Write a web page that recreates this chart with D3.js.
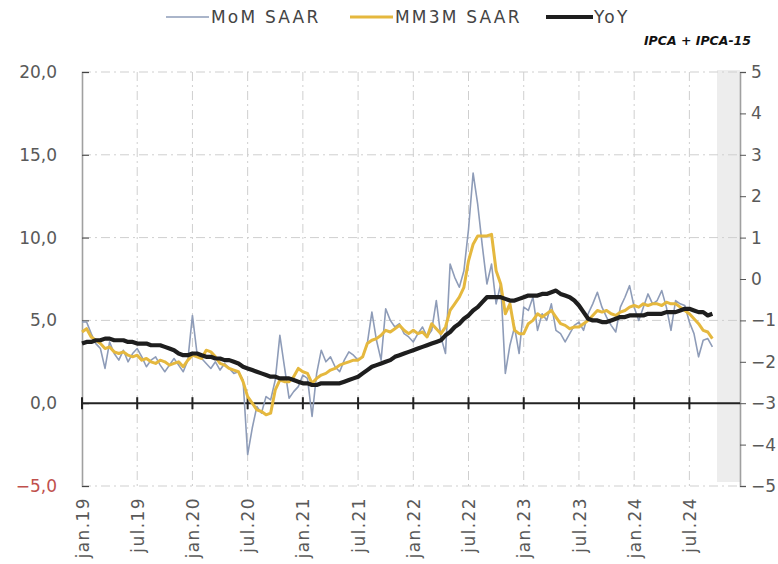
<!DOCTYPE html>
<html>
<head>
<meta charset="utf-8">
<script src="https://cdn.jsdelivr.net/npm/d3@7"></script>
<style>
  body { margin: 0; background: #fff; }
  svg text { font-family: "DejaVu Sans", sans-serif; }
</style>
</head>
<body>
<div class="chart"></div>
<script>
// semi-monthly readings (IPCA + IPCA-15), first point = jan.19, one point every half month
var momSaar = [4.9, 4.9, 4.2, 3.6, 3.3, 2.1, 3.7, 3.0, 2.6, 3.2, 2.5, 3.0, 3.3, 2.8, 2.2, 2.6, 2.8, 2.3, 1.9, 2.3,
  2.7, 2.3, 1.9, 2.6, 5.3, 3.0, 2.7, 2.4, 2.1, 2.5, 2.0, 2.4, 2.1, 1.8, 1.9, 1.4, -3.1, -1.5, -0.2, -0.6,
  0.4, 0.2, 1.4, 4.1, 2.2, 0.3, 0.7, 1.0, 1.7, 1.5, -0.8, 1.8, 3.2, 2.5, 2.8, 2.2, 1.9, 2.6, 3.1, 2.9,
  2.6, 2.8, 3.6, 5.5, 3.8, 2.6, 5.7, 5.0, 4.6, 4.8, 4.2, 4.0, 3.7, 4.2, 4.6, 4.0, 4.4, 6.2, 4.0, 3.0,
  8.4, 7.6, 7.0, 8.0, 10.5, 13.9, 12.0, 9.5, 7.2, 8.4, 6.0, 7.2, 1.8, 3.5, 4.6, 3.0, 5.8, 5.6, 6.4, 4.4,
  5.4, 5.0, 6.0, 4.4, 4.2, 3.7, 4.2, 4.7, 4.9, 4.4, 5.4, 6.0, 6.7, 5.8, 5.2, 4.7, 4.3, 5.8, 6.4, 7.1,
  5.8, 5.0, 5.8, 6.6, 6.0, 6.2, 6.8, 5.8, 4.4, 6.2, 6.0, 5.9, 4.9, 4.2, 2.8, 3.8, 3.9, 3.4]

var mm3mSaar = [4.3, 4.5, 4.0, 3.8, 3.6, 3.3, 3.4, 3.1, 3.0, 3.1, 2.9, 2.8, 2.9, 2.6, 2.7, 2.5, 2.4, 2.6, 2.5, 2.3,
  2.4, 2.5, 2.2, 2.6, 2.9, 2.8, 2.7, 3.2, 3.1, 2.8, 2.4, 2.3, 2.1, 2.0, 1.9, 1.3, 0.4, 0.0, -0.4, -0.5,
  -0.7, -0.6, 0.8, 1.4, 1.3, 1.3, 1.6, 2.1, 1.9, 1.8, 1.2, 1.5, 1.7, 1.8, 2.0, 2.1, 2.3, 2.4, 2.5, 2.6,
  2.6, 2.8, 3.6, 3.8, 3.9, 4.1, 4.4, 4.3, 4.5, 4.7, 4.4, 4.2, 4.4, 4.2, 4.3, 4.0, 4.8, 4.5, 4.2, 4.6,
  5.6, 6.0, 6.4, 7.0, 8.6, 9.6, 10.1, 10.1, 10.1, 10.2, 8.0, 7.2, 5.4, 6.0, 4.4, 4.2, 4.2, 4.8, 5.0, 5.4,
  5.2, 5.4, 5.6, 5.2, 4.8, 4.7, 4.5, 4.6, 4.6, 4.8, 5.0, 5.3, 5.6, 5.5, 5.6, 5.4, 5.3, 5.5, 5.6, 5.8,
  5.9, 5.8, 6.0, 5.9, 6.0, 6.0, 5.9, 6.1, 6.0, 6.0, 5.8, 5.6, 5.4, 5.1, 4.8, 4.4, 4.3, 3.9]

var yoy = [3.6, 3.7, 3.7, 3.8, 3.8, 3.9, 3.9, 3.8, 3.8, 3.8, 3.7, 3.7, 3.6, 3.6, 3.6, 3.5, 3.5, 3.5, 3.4, 3.3,
  3.2, 3.0, 2.9, 2.9, 3.0, 3.0, 2.9, 2.8, 2.8, 2.7, 2.7, 2.6, 2.6, 2.5, 2.4, 2.2, 2.1, 2.0, 1.9, 1.8,
  1.7, 1.6, 1.6, 1.5, 1.5, 1.5, 1.4, 1.3, 1.2, 1.2, 1.1, 1.1, 1.2, 1.2, 1.2, 1.2, 1.2, 1.3, 1.4, 1.5,
  1.6, 1.8, 2.0, 2.2, 2.3, 2.4, 2.5, 2.6, 2.8, 2.9, 3.0, 3.1, 3.2, 3.3, 3.4, 3.5, 3.6, 3.7, 3.8, 4.1,
  4.3, 4.6, 4.8, 5.1, 5.3, 5.6, 5.8, 6.1, 6.4, 6.4, 6.4, 6.4, 6.3, 6.2, 6.2, 6.3, 6.4, 6.5, 6.5, 6.5,
  6.6, 6.6, 6.7, 6.8, 6.6, 6.5, 6.4, 6.2, 5.9, 5.5, 5.1, 5.0, 5.0, 4.9, 4.9, 5.0, 5.1, 5.2, 5.2, 5.3,
  5.3, 5.3, 5.3, 5.4, 5.4, 5.4, 5.4, 5.5, 5.5, 5.5, 5.6, 5.7, 5.7, 5.6, 5.5, 5.5, 5.3, 5.4]

// x ticks: months since jan.19
var tickMonths = [0, 6, 12, 18, 24, 30, 36, 42, 48, 54, 60, 66]
var tickLabels = ["jan.19", "jul.19", "jan.20", "jul.20", "jan.21", "jul.21", "jan.22", "jul.22",
  "jan.23", "jul.23", "jan.24", "jul.24"]
var leftTicks = [-5, 0, 5, 10, 15, 20]
var rightTicks = [-5, -4, -3, -2, -1, 0, 1, 2, 3, 4, 5]
var shadeMonths = [69, 71.5]

var seriesNames = ["MoM SAAR", "MM3M SAAR", "YoY"]
var seriesColors = ["#8e9cb8", "#e5b83e", "#1e1e1e"]
var seriesWidths = [1.6, 3, 4.2]

var width = 778, height = 564
var pLeft = 82, pRight = 740, pTop = 72, pBottom = 486

var x = d3.scaleLinear().domain([0, 71.5]).range([pLeft, pRight])
var yL = d3.scaleLinear().domain([-5, 20]).range([pBottom, pTop])
var yR = d3.scaleLinear().domain([-5, 5]).range([pBottom, pTop])

var svg = d3.select(".chart").append("svg")
  .attr("width", width)
  .attr("height", height)

// grey band at the end
svg.append("rect")
  .attr("x", x(shadeMonths[0]))
  .attr("y", pTop - 2)
  .attr("width", x(shadeMonths[1]) - x(shadeMonths[0]))
  .attr("height", pBottom - pTop - 2)
  .attr("fill", "#ededed")

// grid
var grid = svg.append("g")
  .attr("stroke", "#cfcfcf")
  .attr("stroke-width", 1)
  .attr("stroke-dasharray", "9,4,2,4")
grid.selectAll("line.h")
  .data(leftTicks.filter(d => d !== 0))
  .enter().append("line")
  .attr("x1", pLeft).attr("x2", pRight)
  .attr("y1", d => yL(d)).attr("y2", d => yL(d))
grid.selectAll("line.v")
  .data(tickMonths.filter(d => d > 0))
  .enter().append("line")
  .attr("x1", d => x(d)).attr("x2", d => x(d))
  .attr("y1", pTop).attr("y2", pBottom)

// left axis
var fmt = d3.format(".1f")
var gl = svg.append("g")
  .attr("transform", "translate(" + pLeft + ",0)")
  .call(d3.axisLeft(yL).tickValues(leftTicks).tickSize(-7).tickPadding(25)
    .tickFormat(d => fmt(d).replace(".", ",")))
gl.select(".domain").attr("stroke", "#a0a0a0").attr("stroke-width", 1.6)
gl.selectAll(".tick line").attr("stroke", "#444")
gl.selectAll(".tick text")
  .attr("font-size", 17)
  .attr("fill", d => d < 0 ? "#c0504d" : "#595959")

// right axis
var gr = svg.append("g")
  .attr("transform", "translate(" + pRight + ",0)")
  .call(d3.axisRight(yR).tickValues(rightTicks).tickSize(6).tickPadding(5))
gr.select(".domain").attr("stroke", "#a0a0a0").attr("stroke-width", 1.6)
gr.selectAll(".tick line").attr("stroke", "#555")
gr.selectAll(".tick text").attr("font-size", 17).attr("fill", "#595959")

// zero line with ticks
svg.append("line")
  .attr("x1", pLeft).attr("x2", pRight)
  .attr("y1", yL(0)).attr("y2", yL(0))
  .attr("stroke", "#222").attr("stroke-width", 2)
svg.append("g").selectAll("line")
  .data(tickMonths)
  .enter().append("line")
  .attr("x1", d => x(d)).attr("x2", d => x(d))
  .attr("y1", yL(0) - 6).attr("y2", yL(0) + 6)
  .attr("stroke", "#222").attr("stroke-width", 2)

// x labels
var gx = svg.append("g")
  .attr("transform", "translate(0," + pBottom + ")")
  .call(d3.axisBottom(x).tickValues(tickMonths).tickSize(0)
    .tickFormat((d, i) => tickLabels[i]))
gx.select(".domain").remove()
gx.selectAll(".tick text")
  .attr("transform", "rotate(-90)")
  .attr("text-anchor", "end")
  .attr("x", -11)
  .attr("y", 0)
  .attr("dy", "0.36em")
  .attr("font-size", 17)
  .attr("letter-spacing", 1.4)
  .attr("fill", "#595959")

// series
var line = d3.line()
  .x((d, i) => x(i / 2))
  .y(d => yL(d))

var allSeries = [momSaar, mm3mSaar, yoy]
svg.append("g").selectAll("path")
  .data(allSeries)
  .enter().append("path")
  .attr("d", line)
  .attr("fill", "none")
  .attr("stroke", (d, i) => seriesColors[i])
  .attr("stroke-width", (d, i) => seriesWidths[i])
  .attr("stroke-linejoin", "round")

// legend
var legendX = [166, 350, 546]
var leg = svg.append("g").selectAll("g")
  .data(seriesNames)
  .enter().append("g")
  .attr("transform", (d, i) => "translate(" + legendX[i] + ",17)")
leg.append("line")
  .attr("x1", 0).attr("x2", (d, i) => i === 2 ? 47 : 43)
  .attr("stroke", (d, i) => seriesColors[i])
  .attr("stroke-width", (d, i) => seriesWidths[i])
leg.append("text")
  .attr("x", (d, i) => i === 2 ? 48 : 45)
  .attr("dy", "0.36em")
  .attr("font-size", 17)
  .attr("letter-spacing", 2.2)
  .attr("fill", "#444")
  .text(d => d)

svg.append("text")
  .attr("x", 751)
  .attr("y", 45)
  .attr("text-anchor", "end")
  .attr("font-family", "'Open Sans', sans-serif")
  .attr("font-size", 12.5)
  .attr("font-weight", "bold")
  .attr("font-style", "italic")
  .attr("fill", "#111")
  .text("IPCA + IPCA-15")
</script>
</body>
</html>
